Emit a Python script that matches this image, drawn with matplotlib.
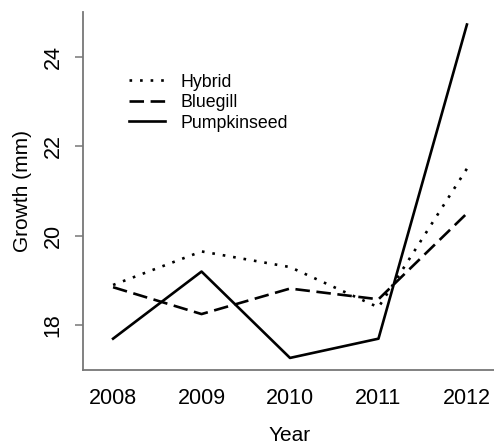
import matplotlib
matplotlib.use("Agg")
import matplotlib.pyplot as plt

years = [2008, 2009, 2010, 2011, 2012]
hybrid = [18.9, 19.65, 19.3, 18.4, 21.5]
bluegill = [18.85, 18.25, 18.82, 18.58, 20.5]
pumpkinseed = [17.7, 19.2, 17.27, 17.7, 24.72]
series_names = ["Hybrid", "Bluegill", "Pumpkinseed"]
yticks = [18, 20, 22, 24]

plt.rcParams['font.family'] = ['Liberation Sans', 'DejaVu Sans']

fig = plt.figure(figsize=(4.94, 4.45), dpi=100)
ax = fig.add_axes([83/494, 75/445, (497-83)/494, (370-12)/445])

lw = 1.9
ax.plot(years, hybrid, color='black', lw=lw, linestyle=(0, (1, 3.0)), label=series_names[0])
ax.plot(years, bluegill, color='black', lw=lw, linestyle=(0, (5.5, 2.5)), label=series_names[1])
ax.plot(years, pumpkinseed, color='black', lw=lw, linestyle='-', label=series_names[2])

ax.set_xlim(2007.66, 2012.34)
ax.set_ylim(17, 25)
ax.set_xticks(years)
ax.set_xticklabels([str(y) for y in years])
ax.set_yticks(yticks)
ax.set_yticklabels([str(t) for t in yticks], rotation=90, va='center')

for s in ['top', 'right']:
    ax.spines[s].set_visible(False)
for s in ['left', 'bottom']:
    ax.spines[s].set_color('#777777')
    ax.spines[s].set_linewidth(1.3)

ax.tick_params(axis='x', length=0, pad=13, labelsize=15.5)
ax.tick_params(axis='y', length=5.8, width=1.1, color='#777777', pad=8, labelsize=15.5)

ax.set_xlabel("Year", fontsize=15, labelpad=12)
ax.set_ylabel("Growth (mm)", fontsize=15, labelpad=8)

ax.legend(loc='upper left', bbox_to_anchor=(0.09, 0.853), frameon=False,
          fontsize=12.8, handlelength=2.0, handletextpad=0.9, labelspacing=0.2,
          borderpad=0)

fig.savefig("out.png", dpi=100)
